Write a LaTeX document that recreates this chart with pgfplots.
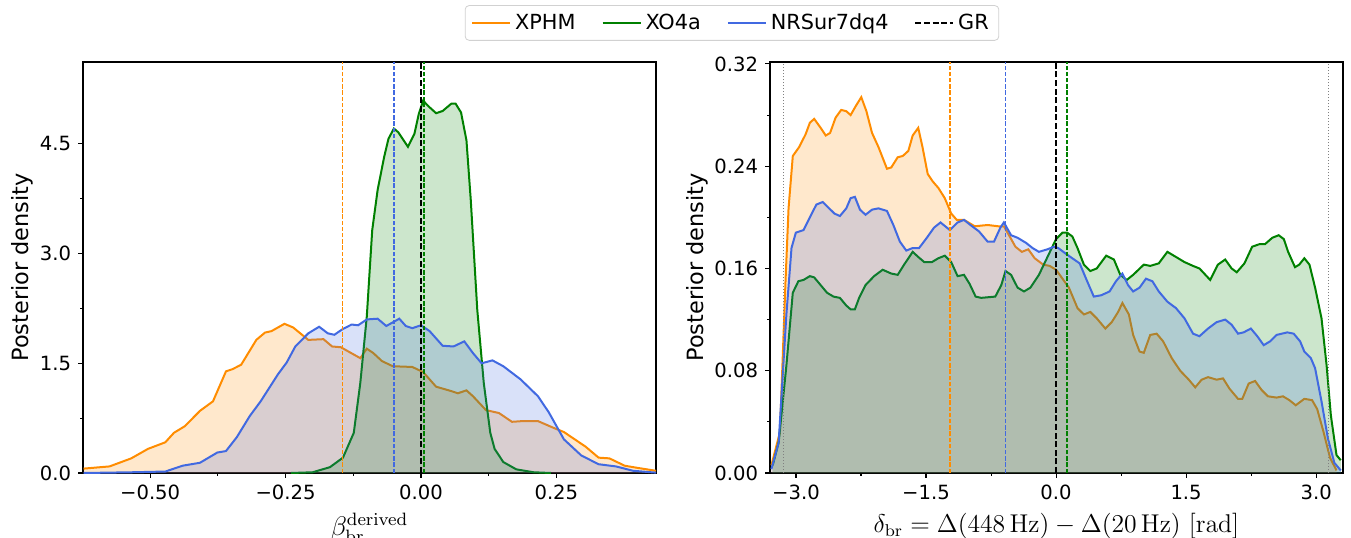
\documentclass[border=0pt]{standalone}
\usepackage[no-math]{fontspec}
\setmainfont{DejaVu Sans}
\usepackage{pgfplots}
\usepackage{pgfplotstable}
\pgfplotsset{compat=1.18}
\definecolor{xphm}{HTML}{FF8C00}
\definecolor{xofa}{HTML}{008000}
\definecolor{nrsur}{HTML}{4169E1}

% left panel: beta_br^derived
\pgfplotstableread{
x y
-0.623 0.06
-0.575 0.09
-0.535 0.20
-0.504 0.33
-0.472 0.42
-0.456 0.55
-0.436 0.64
-0.408 0.85
-0.384 0.98
-0.360 1.39
-0.348 1.42
-0.332 1.48
-0.304 1.82
-0.288 1.92
-0.276 1.94
-0.252 2.04
-0.236 1.99
-0.208 1.82
-0.180 1.83
-0.164 1.73
-0.148 1.72
-0.136 1.67
-0.112 1.57
-0.100 1.70
-0.088 1.64
-0.072 1.53
-0.052 1.46
-0.016 1.45
0.004 1.38
0.028 1.18
0.056 1.12
0.068 1.09
0.084 1.13
0.096 1.05
0.120 0.86
0.144 0.82
0.168 0.70
0.188 0.71
0.216 0.71
0.244 0.62
0.264 0.56
0.304 0.36
0.328 0.21
0.348 0.20
0.376 0.10
0.400 0.07
0.434 0.03
}\lxphm
\pgfplotstableread{
x y
-0.240 0.00
-0.200 0.01
-0.168 0.08
-0.144 0.21
-0.124 0.55
-0.112 1.23
-0.100 2.14
-0.090 3.32
-0.080 3.87
-0.068 4.32
-0.060 4.57
-0.050 4.71
-0.042 4.66
-0.024 4.46
-0.012 4.64
-0.004 4.91
0.004 5.09
0.016 5.00
0.028 4.92
0.040 4.95
0.056 5.05
0.064 5.05
0.074 4.93
0.084 4.55
0.092 3.73
0.104 2.23
0.116 1.23
0.128 0.55
0.136 0.33
0.152 0.15
0.176 0.05
0.208 0.01
0.240 0.00
}\lxofa
\pgfplotstableread{
x y
-0.623 0.00
-0.535 0.01
-0.472 0.02
-0.440 0.10
-0.408 0.14
-0.376 0.28
-0.360 0.30
-0.340 0.49
-0.316 0.78
-0.296 0.98
-0.264 1.35
-0.248 1.51
-0.232 1.73
-0.208 1.91
-0.188 2.00
-0.172 1.91
-0.160 1.89
-0.144 1.97
-0.128 2.03
-0.116 2.02
-0.100 2.10
-0.080 2.11
-0.064 2.01
-0.052 2.06
-0.040 2.11
-0.028 2.01
-0.016 1.98
0.000 2.02
0.016 1.94
0.040 1.74
0.060 1.73
0.080 1.80
0.096 1.64
0.112 1.50
0.132 1.54
0.152 1.46
0.184 1.28
0.216 1.05
0.236 0.83
0.264 0.46
0.296 0.24
0.328 0.12
0.360 0.09
0.392 0.03
0.434 0.005
}\lnrsur

% right panel: delta_br
\pgfplotstableread{
x y
-3.284 0.006
-3.185 0.032
-3.121 0.150
-3.086 0.207
-3.037 0.248
-2.963 0.255
-2.889 0.265
-2.840 0.274
-2.790 0.277
-2.716 0.270
-2.657 0.264
-2.607 0.266
-2.543 0.278
-2.479 0.284
-2.420 0.283
-2.370 0.280
-2.311 0.287
-2.247 0.294
-2.188 0.283
-2.123 0.266
-2.049 0.255
-1.951 0.238
-1.901 0.239
-1.827 0.247
-1.768 0.248
-1.704 0.252
-1.654 0.264
-1.590 0.270
-1.541 0.255
-1.481 0.234
-1.422 0.228
-1.358 0.223
-1.284 0.215
-1.210 0.203
-1.146 0.198
-1.062 0.198
-0.938 0.193
-0.790 0.194
-0.667 0.193
-0.602 0.193
-0.543 0.186
-0.469 0.177
-0.395 0.173
-0.321 0.175
-0.247 0.168
-0.148 0.163
-0.074 0.162
0.000 0.159
0.074 0.152
0.148 0.145
0.247 0.129
0.321 0.124
0.395 0.126
0.469 0.121
0.568 0.113
0.642 0.118
0.716 0.126
0.765 0.133
0.840 0.124
0.889 0.108
0.963 0.095
1.012 0.094
1.086 0.108
1.160 0.109
1.235 0.103
1.333 0.090
1.432 0.080
1.531 0.073
1.605 0.067
1.679 0.073
1.753 0.075
1.852 0.073
1.926 0.074
2.000 0.066
2.099 0.058
2.148 0.058
2.222 0.070
2.296 0.072
2.370 0.065
2.444 0.060
2.543 0.059
2.617 0.060
2.691 0.057
2.765 0.053
2.864 0.058
2.953 0.057
3.012 0.050
3.086 0.032
3.160 0.012
3.235 0.002
}\rxphm
\pgfplotstableread{
x y
-3.269 0.006
-3.200 0.024
-3.111 0.084
-3.037 0.141
-2.973 0.150
-2.914 0.151
-2.840 0.154
-2.790 0.153
-2.716 0.147
-2.642 0.141
-2.568 0.138
-2.494 0.137
-2.420 0.131
-2.370 0.128
-2.321 0.128
-2.272 0.137
-2.198 0.147
-2.099 0.154
-2.000 0.159
-1.901 0.156
-1.827 0.155
-1.753 0.163
-1.654 0.173
-1.590 0.169
-1.521 0.165
-1.432 0.165
-1.358 0.168
-1.284 0.170
-1.210 0.165
-1.136 0.154
-1.062 0.155
-0.998 0.148
-0.928 0.138
-0.864 0.137
-0.701 0.138
-0.632 0.147
-0.583 0.158
-0.519 0.155
-0.444 0.145
-0.370 0.142
-0.296 0.145
-0.198 0.155
-0.099 0.169
0.000 0.183
0.074 0.188
0.128 0.188
0.188 0.185
0.247 0.176
0.321 0.163
0.395 0.158
0.469 0.160
0.578 0.170
0.667 0.167
0.741 0.155
0.815 0.151
0.889 0.155
1.012 0.163
1.086 0.162
1.185 0.164
1.284 0.173
1.383 0.169
1.481 0.165
1.580 0.162
1.654 0.160
1.778 0.151
1.867 0.163
1.951 0.167
2.025 0.160
2.084 0.157
2.173 0.164
2.262 0.177
2.346 0.179
2.410 0.179
2.494 0.184
2.568 0.186
2.627 0.183
2.677 0.173
2.756 0.161
2.805 0.163
2.864 0.168
2.923 0.163
2.988 0.145
3.062 0.121
3.121 0.084
3.170 0.045
3.235 0.014
3.284 0.010
}\rxofa
\pgfplotstableread{
x y
-3.284 0.003
-3.200 0.024
-3.111 0.124
-3.052 0.176
-3.002 0.188
-2.914 0.190
-2.840 0.200
-2.765 0.210
-2.691 0.212
-2.617 0.207
-2.558 0.203
-2.494 0.201
-2.420 0.207
-2.370 0.215
-2.321 0.216
-2.262 0.206
-2.198 0.202
-2.123 0.206
-2.049 0.207
-1.951 0.205
-1.877 0.194
-1.802 0.181
-1.728 0.174
-1.654 0.176
-1.580 0.176
-1.491 0.184
-1.407 0.192
-1.333 0.196
-1.225 0.190
-1.136 0.196
-1.062 0.198
-0.988 0.194
-0.889 0.189
-0.790 0.181
-0.716 0.181
-0.642 0.192
-0.602 0.196
-0.519 0.186
-0.444 0.184
-0.346 0.180
-0.272 0.176
-0.198 0.173
-0.099 0.175
-0.025 0.177
0.025 0.176
0.123 0.171
0.272 0.164
0.346 0.152
0.435 0.138
0.519 0.139
0.617 0.142
0.691 0.150
0.765 0.156
0.830 0.147
0.889 0.142
0.963 0.145
1.037 0.152
1.111 0.150
1.185 0.142
1.284 0.134
1.383 0.129
1.481 0.121
1.580 0.109
1.654 0.107
1.753 0.113
1.852 0.118
1.951 0.120
2.025 0.116
2.099 0.109
2.163 0.110
2.247 0.113
2.321 0.107
2.395 0.100
2.469 0.103
2.543 0.108
2.667 0.110
2.741 0.109
2.815 0.103
2.864 0.095
2.938 0.090
2.988 0.082
3.062 0.056
3.136 0.027
3.210 0.008
3.284 0.002
}\rnrsur

\pgfplotsset{
  panel/.style={
    scale only axis, width=286.5pt, height=205.5pt,
    ymin=0, tick align=outside, xtick pos=bottom, ytick pos=left,
    axis line style={line width=0.6pt},
    major tick length=2.4pt, minor tick length=1.4pt,
    every tick/.style={black, line width=0.55pt},
    minor x tick num=1, minor y tick num=1,
    ticklabel style={font=\fontsize{9.8}{11}\selectfont},
    ylabel style={font=\fontsize{11.2}{13}\selectfont},
    xlabel style={font=\fontsize{12}{14}\selectfont},
    ylabel={Posterior density}, ylabel shift=-3.5pt,
  },
  fillp/.style={draw=none, fill=#1, fill opacity=0.2, forget plot},
  linep/.style={draw=#1, line width=1pt, no marks},
  medp/.style={draw=#1, line width=0.75pt, dash pattern=on 2.2pt off 0.9pt, no marks, forget plot},
}

\begin{document}
\begin{tikzpicture}
\begin{axis}[panel, at={(41.5pt,32pt)}, anchor=south west,
  xmin=-0.624, xmax=0.434, ymax=5.62,
  xtick={-0.5,-0.25,0,0.25}, xticklabels={−0.50,−0.25,0.00,0.25},
  ytick={0,1.5,3,4.5}, yticklabels={0.0,1.5,3.0,4.5},
  xlabel={\scalebox{1.12}{$\beta_{\mathrm{br}}^{\mathrm{derived}}$}},
  legend columns=4,
  legend style={at={(1.1326,1.095)}, anchor=center, draw=black!18, rounded corners=2pt,
    font=\fontsize{10.4}{12}\selectfont, inner xsep=3pt, inner ysep=2pt,
    /tikz/every even column/.append style={column sep=11pt}},
  legend image code/.code={\draw[#1] (0pt,0pt) -- (19pt,0pt);},
]
\addplot[fillp=xphm] table {\lxphm} \closedcycle;
\addplot[linep=xphm] table {\lxphm};
\addplot[fillp=xofa] table {\lxofa} \closedcycle;
\addplot[linep=xofa] table {\lxofa};
\addplot[fillp=nrsur] table {\lnrsur} \closedcycle;
\addplot[linep=nrsur] table {\lnrsur};
\addplot[draw=black, line width=0.8pt, dash pattern=on 3pt off 1.3pt] coordinates {(0,0) (0,5.62)};
\addplot[medp=xphm] coordinates {(-0.145,0) (-0.145,5.62)};
\addplot[medp=nrsur] coordinates {(-0.050,0) (-0.050,5.62)};
\addplot[medp=xofa] coordinates {(0.006,0) (0.006,5.62)};
\legend{XPHM,XO4a,NRSur7dq4,GR}
\end{axis}

\begin{axis}[panel, at={(385pt,32pt)}, anchor=south west,
  xmin=-3.30, xmax=3.31, ymax=0.3215,
  xtick={-3,-1.5,0,1.5,3}, xticklabels={−3.0,−1.5,0.0,1.5,3.0},
  ytick={0,0.08,0.16,0.24,0.32}, yticklabels={0.00,0.08,0.16,0.24,0.32},
  xlabel={\scalebox{1.07}{$\delta_{\mathrm{br}} = \Delta(448\,\mathrm{Hz}) - \Delta(20\,\mathrm{Hz})\ [\mathrm{rad}]$}},
]
\addplot[fillp=xphm] table {\rxphm} \closedcycle;
\addplot[linep=xphm] table {\rxphm};
\addplot[fillp=xofa] table {\rxofa} \closedcycle;
\addplot[linep=xofa] table {\rxofa};
\addplot[fillp=nrsur] table {\rnrsur} \closedcycle;
\addplot[linep=nrsur] table {\rnrsur};
\addplot[draw=gray, line width=0.5pt, dash pattern=on 0.5pt off 1pt, forget plot] coordinates {(-3.1416,0) (-3.1416,0.3215)};
\addplot[draw=gray, line width=0.5pt, dash pattern=on 0.5pt off 1pt, forget plot] coordinates {(3.1416,0) (3.1416,0.3215)};
\addplot[draw=black, line width=0.8pt, dash pattern=on 3pt off 1.3pt, forget plot] coordinates {(0,0) (0,0.3215)};
\addplot[medp=xphm] coordinates {(-1.225,0) (-1.225,0.3215)};
\addplot[medp=nrsur] coordinates {(-0.583,0) (-0.583,0.3215)};
\addplot[medp=xofa] coordinates {(0.128,0) (0.128,0.3215)};
\end{axis}
\pgfresetboundingbox
\useasboundingbox (0,0) rectangle (675.5pt,268.5pt);
\end{tikzpicture}
\end{document}
